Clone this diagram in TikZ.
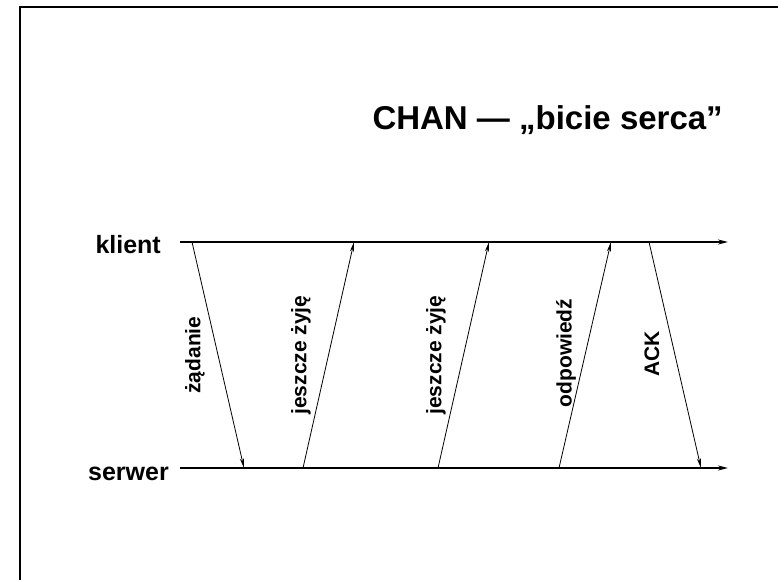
\documentclass[tikz,border=0pt]{standalone}
\usepackage{fontspec}
\setmainfont{Liberation Sans}
\usetikzlibrary{positioning,arrows.meta}

\begin{document}
\begin{tikzpicture}[x=1pt,y=-1pt]
\tikzset{axis/.style={line width=1.6pt,-{Stealth[length=10pt,width=5pt]}},
  msg/.style={line width=0.8pt,-{Stealth[length=10pt,width=4pt]}},
  heading/.style={font=\fontsize{33}{33}\bfseries\selectfont,inner sep=0pt,anchor=base east},
  actor/.style={font=\fontsize{25}{25}\bfseries\selectfont,inner sep=0pt,anchor=base east},
  lbl/.style={font=\fontsize{21}{21}\bfseries\selectfont,rotate=90,inner sep=0pt}};
   \useasboundingbox (0,0) rectangle (778,580);
   \draw[line width=2pt] (20,580) -- (20,7) -- (778,7);

   \node[heading] (title) at (723,130) {CHAN — „bicie serca”};
   \node[actor] (klient) at (161,253) {klient};
   \node[actor] (serwer) at (169,480) {serwer};

   \coordinate (k0) at (180,242);  \coordinate (kend) at (728,242);
   \coordinate (s0) at (180,468);  \coordinate (send) at (728,468);
   \draw[axis] (k0) -- (kend);
   \draw[axis] (s0) -- (send);

   % punkty na osiach
   \coordinate (k1) at (192,242); \coordinate (s1) at (244,468);
   \coordinate (s2) at (303,468); \coordinate (k2) at (354,242);
   \coordinate (s3) at (438,468); \coordinate (k3) at (489,242);
   \coordinate (s4) at (559,468); \coordinate (k4) at (611,242);
   \coordinate (k5) at (649,242); \coordinate (s5) at (701,468);

   \draw[msg] (k1) -- (s1);
   \draw[msg] (s2) -- (k2);
   \draw[msg] (s3) -- (k3);
   \draw[msg] (s4) -- (k4);
   \draw[msg] (k5) -- (s5);

   \node[lbl] (req) at (195,355) {żądanie};
   \node[lbl] (alive1) at (301,355) {jeszcze żyję};
   \node[lbl] (alive2) at (436,355) {jeszcze żyję};
   \node[lbl] (resp) at (566,353) {odpowiedź};
   \node[lbl] (ack) at (652,354) {ACK};
\end{tikzpicture}
\end{document}
